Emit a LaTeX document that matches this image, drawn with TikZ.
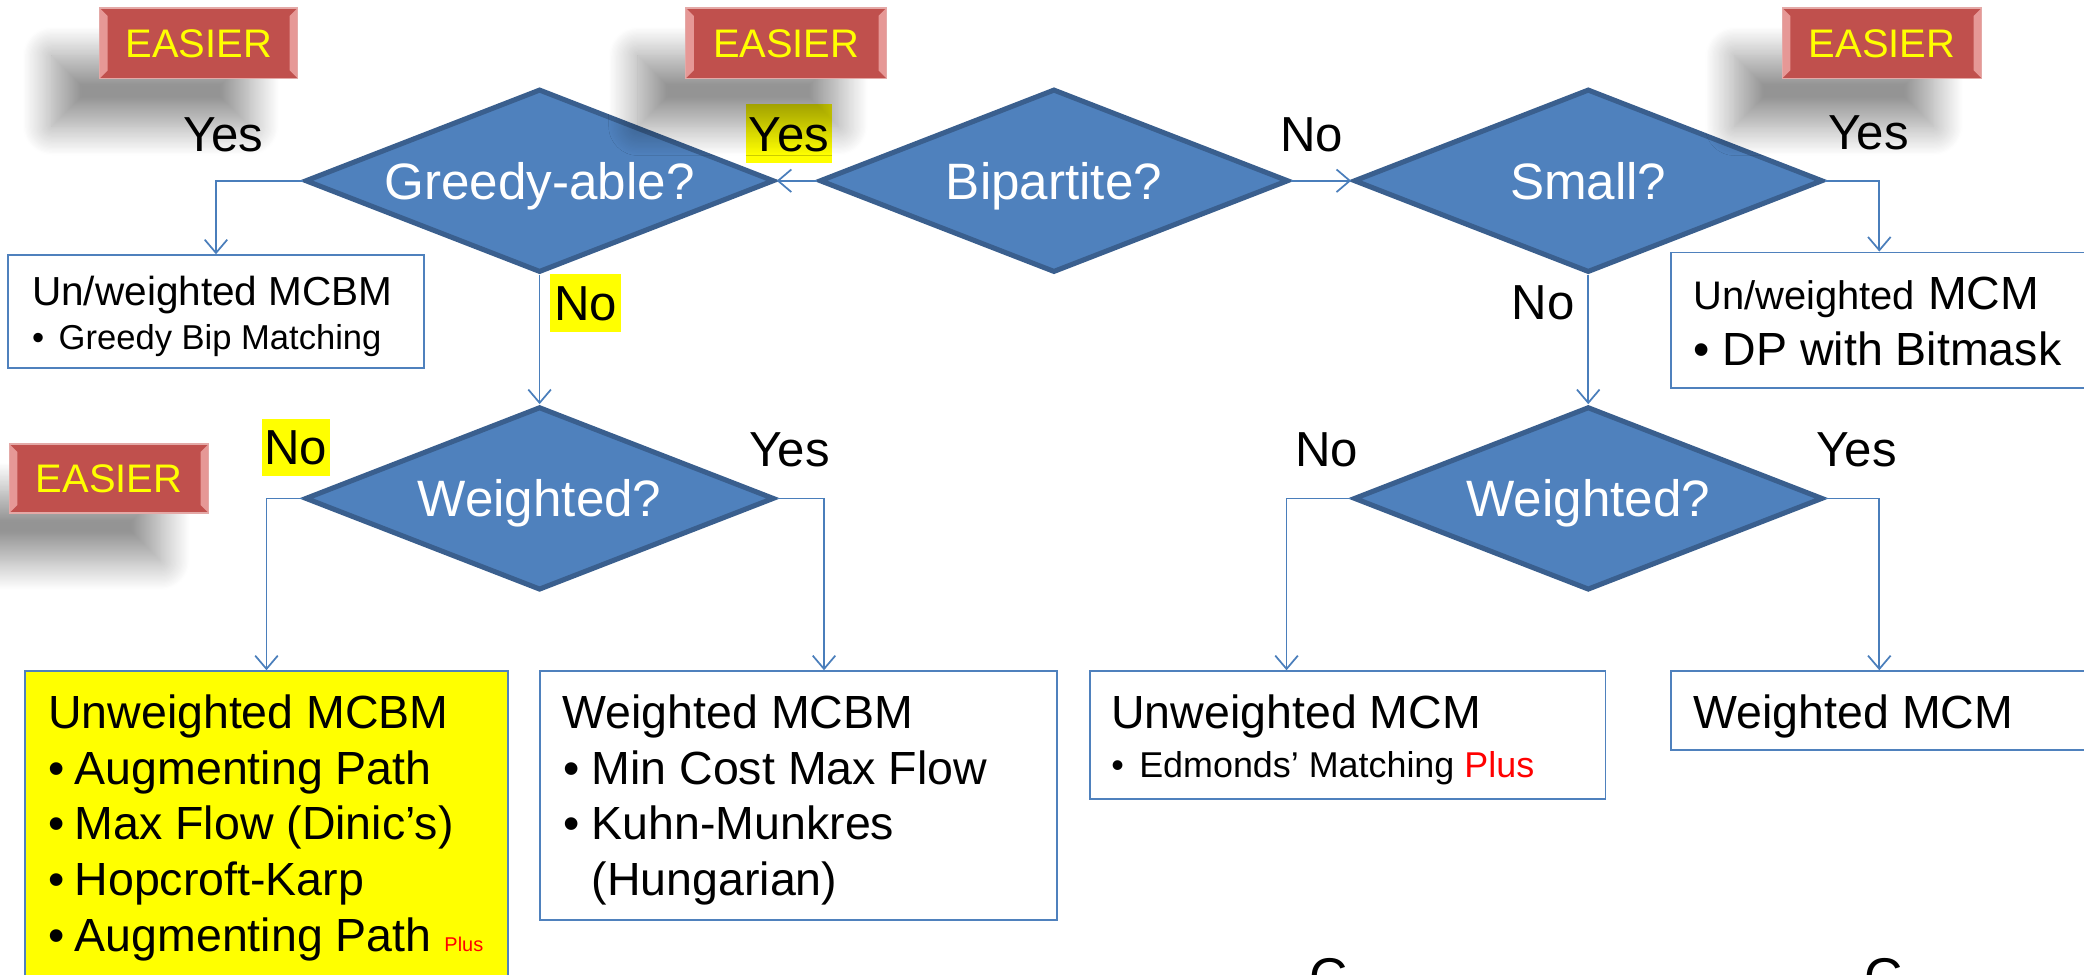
\documentclass[tikz,border=0pt]{standalone}
\usepackage{fontspec}
\setmainfont{Liberation Sans}
\usetikzlibrary{arrows.meta,shapes.geometric,shadows.blur}
\definecolor{dfill}{HTML}{4F81BD}
\definecolor{dedge}{HTML}{3A5F8E}
\definecolor{linkblue}{HTML}{4A7EBB}
\definecolor{boxedge}{HTML}{4F81BD}
\definecolor{badgered}{HTML}{C0504D}
\definecolor{badgeedge}{HTML}{E4A9A7}
\definecolor{bevelpink}{HTML}{E69896}
\definecolor{hlyellow}{HTML}{FFFF00}
\definecolor{plusred}{HTML}{FF0000}
\begin{document}
\begin{tikzpicture}[x=1pt,y=-1pt,
  decision/.style={diamond, aspect=2.56, minimum width=353pt, minimum height=138pt, inner sep=0pt,
    fill=dfill, draw=dedge, line width=3.8pt, text=white, font=\fontsize{38.5}{44}\selectfont,
    text height=27.6pt, text depth=0pt},
  result/.style={draw=boxedge, line width=1.4pt, fill=white, inner sep=0pt},
  ans/.style={font=\fontsize{37}{44}\selectfont, text height=26.5pt, text depth=0pt, inner sep=0pt},
  hlans/.style={ans, fill=hlyellow},
  link/.style={draw=linkblue, line width=1.3pt, -{Straight Barb[length=10pt,width=17pt]}},
  txt/.style={anchor=base west, inner sep=0pt},
  big/.style={font=\fontsize{35}{42}\selectfont},
  badge/.style={fill=badgered, draw=badgeedge, line width=1pt, minimum width=149pt, minimum height=53pt,
    inner sep=0pt, text=hlyellow, font=\fontsize{30}{36}\selectfont, text height=21.5pt, text depth=0pt,
    blur shadow={shadow xshift=-36pt, shadow yshift=-36pt, shadow blur radius=22pt, shadow blur steps=24, shadow opacity=42},
    path picture={
      \fill[bevelpink] (path picture bounding box.north west) -- ++(6pt,-6pt)
        -- ([shift={(6pt,6pt)}]path picture bounding box.south west) -- (path picture bounding box.south west) -- cycle;
      \fill[bevelpink] (path picture bounding box.north east) -- ++(-6pt,-6pt)
        -- ([shift={(-6pt,6pt)}]path picture bounding box.south east) -- (path picture bounding box.south east) -- cycle;
    }},
]
\useasboundingbox (0,0) rectangle (1568,733);
\clip (0,0) rectangle (1568,733);

% decisions
\node[decision] (greedy) at (406,136) {Greedy-able?};
\node[decision] (bip) at (793,136) {Bipartite?};
\node[decision] (small) at (1195,136) {Small?};
\node[decision] (wl) at (406,375) {Weighted?};
\node[decision] (wr) at (1195,375) {Weighted?};

% result boxes
\node[result, minimum width=313pt, minimum height=85pt] (b1) at (162.5,234.5) {};
\node[result, minimum width=323pt, minimum height=102pt] (b2) at (1418.5,241) {};
\node[result, fill=hlyellow, minimum width=363pt, minimum height=255pt] (b3) at (200.5,632.5) {};
\node[result, minimum width=389pt, minimum height=187pt] (b4) at (600.5,598.5) {};
\node[result, minimum width=388pt, minimum height=96pt] (b5) at (1014,553) {};
\node[result, minimum width=323pt, minimum height=59pt] (b6) at (1418.5,534.5) {};

% connectors
\draw[link] (bip.west) -- (greedy.east);
\draw[link] (bip.east) -- (small.west);
\draw[link] (greedy.west) -| (b1.north);
\draw[link] (greedy.south) -- (wl.north);
\draw[link] (small.east) -| ([xshift=-4.5pt]b2.north);
\draw[link] (small.south) -- (wr.north);
\draw[link] (wl.west) -| (b3.north);
\draw[link] (wl.east) -| ([xshift=19.5pt]b4.north);
\draw[link] (wr.west) -| ([xshift=-46pt]b5.north);
\draw[link] (wr.east) -| ([xshift=-4.5pt]b6.north);

% labels
\node[ans] (l1) at (168,101) {Yes};
\node[hlans, minimum width=65pt, minimum height=44pt] (l2) at (593.5,100.5) {Yes};
\node[ans] (l3) at (987,101) {No};
\node[ans] (l4) at (1406,99) {Yes};
\node[hlans, minimum width=53pt, minimum height=44pt] (l5) at (440.5,228) {No};
\node[ans] (l6) at (1161,227) {No};
\node[hlans, minimum width=51pt, minimum height=43pt] (l7) at (222.5,336.5) {No};
\node[ans] (l8) at (594,338) {Yes};
\node[ans] (l9) at (998,338) {No};
\node[ans] (l10) at (1397,338) {Yes};

% box texts
\node[txt, font=\fontsize{30.5}{36}\selectfont] (t1) at (24,230) {Un/weighted MCBM};
\node[txt, font=\fontsize{26}{31}\selectfont] (t2) at (24,263) {\makebox[20pt][l]{•}Greedy Bip Matching};

\node[txt] (t3) at (1274,233) {\fontsize{30}{36}\selectfont Un/weighted\fontsize{35}{42}\selectfont\ MCM};
\node[txt, big] (t4) at (1274,275) {\makebox[22pt][l]{•}DP with Bitmask};

\node[txt, big] (t5) at (36,548) {Unweighted MCBM};
\node[txt, big] (t6) at (36,590) {\makebox[20pt][l]{•}Augmenting Path};
\node[txt, big] (t7) at (36,632) {\makebox[20pt][l]{•}Max Flow (Dinic’s)};
\node[txt, big] (t8) at (36,674) {\makebox[20pt][l]{•}Hopcroft-Karp};
\node[txt, big] (t9) at (36,716) {\makebox[20pt][l]{•}Augmenting Path {\color{plusred}\fontsize{15}{18}\selectfont Plus}};

\node[txt, big] (t10) at (423,548) {Weighted MCBM};
\node[txt, big] (t11) at (424,590) {\makebox[21pt][l]{•}Min Cost Max Flow};
\node[txt, big] (t12) at (424,632) {\makebox[21pt][l]{•}Kuhn-Munkres};
\node[txt, big] (t13) at (445,674) {(Hungarian)};

\node[txt, big] (t14) at (836,548) {Unweighted MCM};
\node[txt, font=\fontsize{27}{32}\selectfont] (t15) at (836,585) {\makebox[21pt][l]{•}Edmonds’ Matching {\color{plusred}Plus}};

\node[txt, big] (t16) at (1274,548) {Weighted MCM};

% letters cut off by the bottom edge, as in the reference
\node[txt, font=\fontsize{40}{48}\selectfont] (c1) at (985,749) {C};
\node[txt, font=\fontsize{40}{48}\selectfont] (c2) at (1403,749) {C};

% EASIER badges
\node[badge] (e1) at (149.5,32.5) {EASIER};
\node[badge, minimum width=151pt] (e2) at (591.5,32.5) {EASIER};
\node[badge, minimum width=150pt] (e3) at (1416,32.5) {EASIER};
\node[badge, minimum width=150pt, minimum height=52pt] (e4) at (82,360) {EASIER};
\end{tikzpicture}
\end{document}
